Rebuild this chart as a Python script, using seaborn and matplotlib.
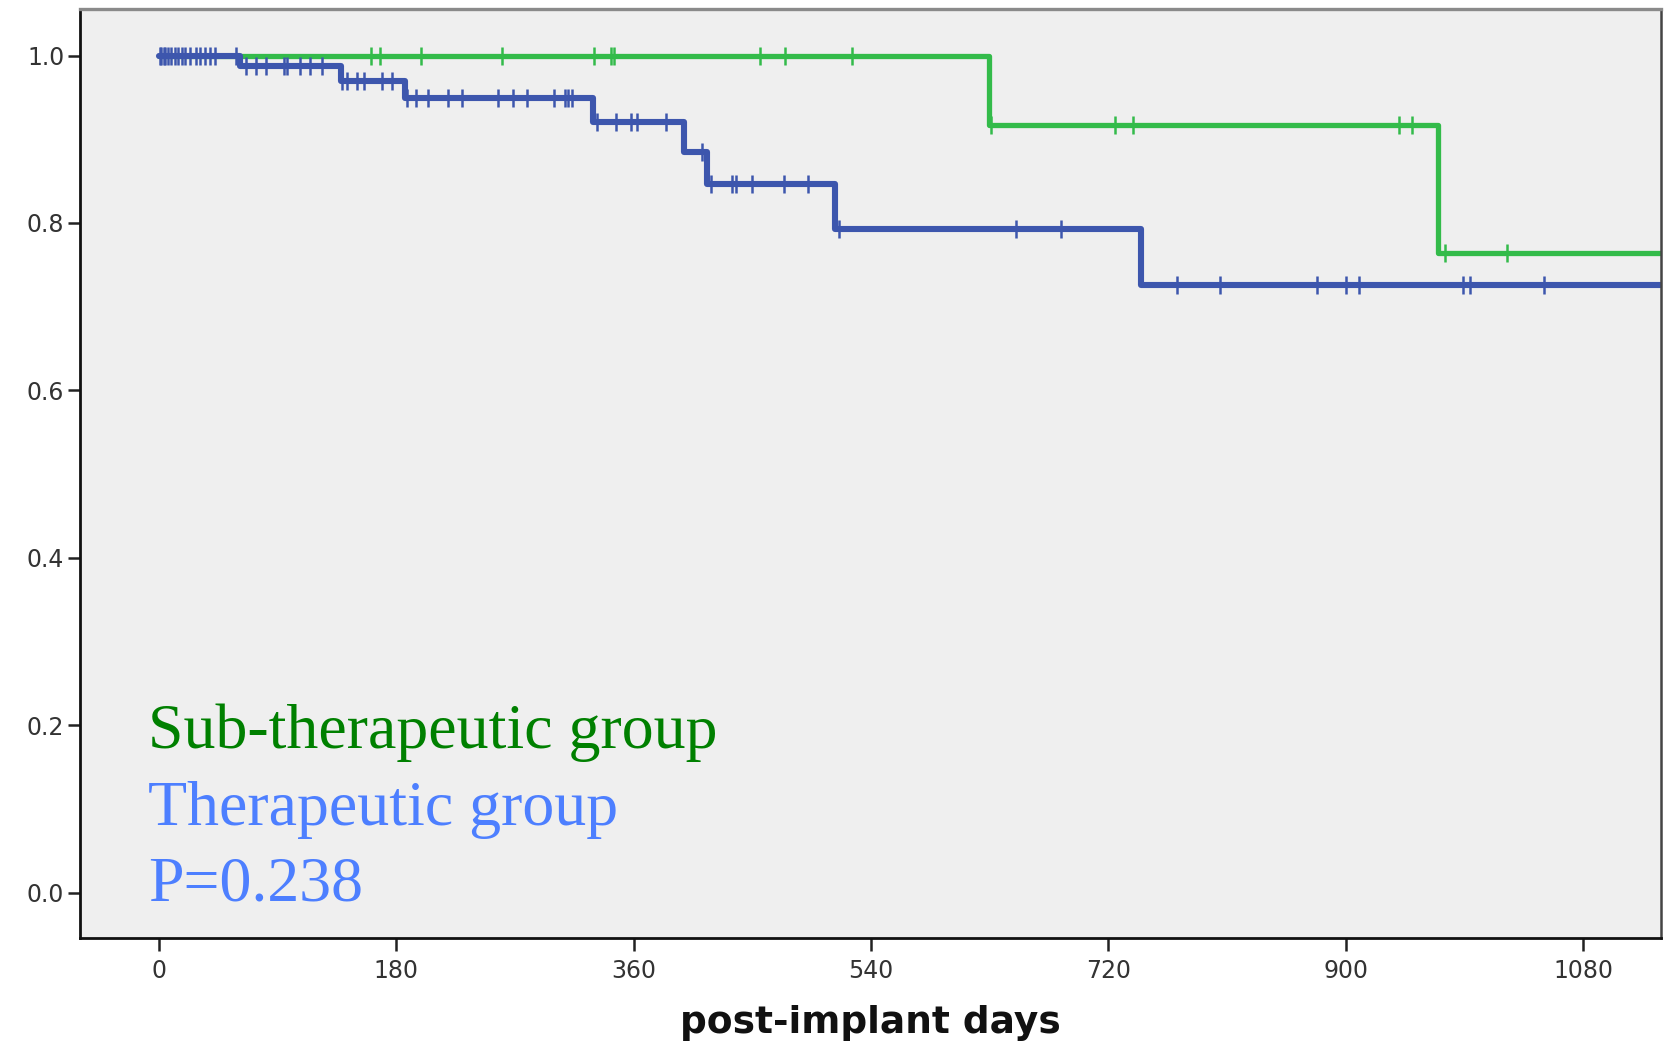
import numpy as np
import pandas as pd
import seaborn as sns
from matplotlib import pyplot as plt

# Kaplan-Meier steps (days, survival)
sub_times = [0, 629.5, 970, 1150]
sub_surv = [1.0, 0.9167, 0.7639, 0.7639]
sub_cens = [161, 168, 199, 260, 330, 343, 345, 456, 475, 526,
            631, 725, 739, 940, 950, 975, 1022]

ther_times = [0, 62, 138, 187, 329.5, 398.5, 416, 513, 744.5, 1150]
ther_surv = [1.0, 0.9875, 0.970, 0.949, 0.9206, 0.885, 0.846, 0.793, 0.726, 0.726]
ther_cens = [1, 2, 4, 5, 7, 9, 12, 15, 18, 20, 24, 28, 31, 35, 39, 43, 59,
             66, 74, 81, 95, 97, 107, 115, 124,
             139, 143, 150, 156, 169, 177,
             188, 195, 204, 219, 230, 257, 269, 279, 300, 308, 310, 313,
             332, 347, 358, 363, 385,
             412,
             419, 435, 438, 450, 474, 492,
             516, 650, 684,
             772, 805, 878, 900, 910, 989, 994, 1050]

x_ticks = [0, 180, 360, 540, 720, 900, 1080]
y_ticks = [0.0, 0.2, 0.4, 0.6, 0.8, 1.0]

green = '#33bb4a'
blue = '#3d56ad'


def cens_level(times, surv, cens):
    idx = np.searchsorted(times, cens, side='right') - 1
    return np.array(surv)[idx]


sub = pd.DataFrame({'t': sub_times, 's': sub_surv})
ther = pd.DataFrame({'t': ther_times, 's': ther_surv})
sub_c = pd.DataFrame({'t': sub_cens, 's': cens_level(sub_times, sub_surv, sub_cens)})
ther_c = pd.DataFrame({'t': ther_cens, 's': cens_level(ther_times, ther_surv, ther_cens)})

sns.set_style('white', {'axes.facecolor': '#efefef'})
plt.rcParams['font.family'] = ['DejaVu Sans']

fig = plt.figure(figsize=(16.64, 10.41), dpi=100)
ax = fig.add_axes([0.0478, 0.0989, 0.9504, 0.892])

sns.lineplot(data=sub, x='t', y='s', ax=ax, color=green, linewidth=3.8,
             drawstyle='steps-post', estimator=None, sort=False)
sns.scatterplot(data=sub_c, x='t', y='s', ax=ax, color=green, marker='|',
                s=170, linewidth=1.8, zorder=3)
sns.lineplot(data=ther, x='t', y='s', ax=ax, color=blue, linewidth=4.4,
             drawstyle='steps-post', estimator=None, sort=False)
sns.scatterplot(data=ther_c, x='t', y='s', ax=ax, color=blue, marker='|',
                s=170, linewidth=1.8, zorder=4)

ax.set_xlim(-60, 1139)
ax.set_ylim(-0.054, 1.055)
ax.set_xticks(x_ticks)
ax.set_yticks(y_ticks)
ax.set_yticklabels([f'{v:.1f}' for v in y_ticks])
ax.tick_params(axis='both', direction='out', length=9, width=1.8,
               color='#222222', labelcolor='#333333', labelsize=17,
               left=True, bottom=True)
ax.tick_params(axis='x', pad=6)
ax.tick_params(axis='y', pad=2)

ax.set_xlabel('post-implant days', fontsize=27, fontweight='bold',
              labelpad=16, color='#111111')
ax.set_ylabel('')

for side in ['left', 'bottom']:
    ax.spines[side].set_color('#111111')
    ax.spines[side].set_linewidth(2.0)
ax.spines['top'].set_color('#8a8a8a')
ax.spines['top'].set_linewidth(2.4)
ax.spines['right'].set_color('#444444')
ax.spines['right'].set_linewidth(1.8)

serif = ['Liberation Serif', 'DejaVu Serif']
ax.text(-8, 0.1726, 'Sub-therapeutic group', color='#008000', fontsize=46,
        family=serif, va='baseline', ha='left')
ax.text(-8, 0.081, 'Therapeutic group', color='#4d7fff', fontsize=46,
        family=serif, va='baseline', ha='left')
ax.text(-8, -0.0089, 'P=0.238', color='#4d7fff', fontsize=46,
        family=serif, va='baseline', ha='left')

fig.savefig('out.png', dpi=100, facecolor='white')
